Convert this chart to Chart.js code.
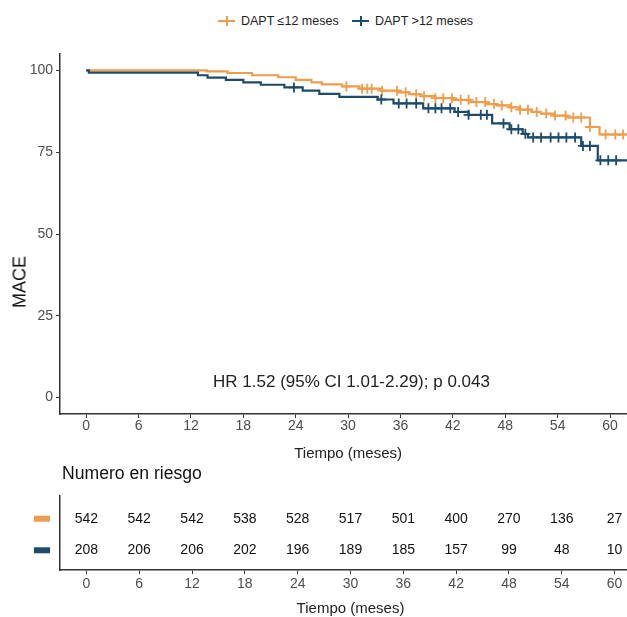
<!DOCTYPE html>
<html><head><meta charset="utf-8">
<script src="https://cdn.jsdelivr.net/npm/chart.js@4.4.1/dist/chart.umd.min.js"></script>
<style>
html,body{margin:0;padding:0;background:#fff;}
body{width:627px;height:617px;overflow:hidden;position:relative;font-family:"Liberation Sans",Arial,sans-serif;}
#top{position:absolute;left:0;top:0;}
#bot{position:absolute;left:0;top:460px;}
.legend{position:absolute;top:12px;left:0;width:627px;height:18px;font-size:12.5px;color:#222;}
.li{position:absolute;top:0;display:flex;align-items:center;height:18px;}
.sym{position:relative;width:17px;height:12px;margin-right:6px;}
.sym::before{content:"";position:absolute;left:0;top:5px;width:17px;height:2px;background:var(--c);}
.sym::after{content:"";position:absolute;left:7.5px;top:1px;width:2px;height:10px;background:var(--c);}
#hr{position:absolute;left:0;width:703px;top:372px;text-align:center;font-size:17px;color:#222;}
#nr{position:absolute;left:62px;top:463px;font-size:17.6px;color:#111;}
#mace{position:absolute;left:20px;top:282px;transform:translate(-50%,-50%) rotate(-90deg);font-size:18px;color:#111;white-space:nowrap;}
</style></head>
<body>
<div class="legend">
  <div class="li" style="left:218px"><span class="sym" style="--c:#EF9C4D"></span><span>DAPT ≤12 meses</span></div>
  <div class="li" style="left:352px"><span class="sym" style="--c:#1C4B6C"></span><span>DAPT &gt;12 meses</span></div>
</div>
<canvas id="top" width="643" height="470" style="width:643px;height:470px"></canvas>
<div id="hr">HR 1.52 (95% CI 1.01-2.29); p 0.043</div>
<div id="mace">MACE</div>
<div id="nr">Numero en riesgo</div>
<canvas id="bot" width="643" height="158" style="width:643px;height:158px"></canvas>
<script>
// ---- data ----
const seriesNames = ["DAPT ≤12 meses", "DAPT >12 meses"];
const seriesColors = ["#EF9C4D", "#1C4B6C"];
// step function (time in months, MACE-free %)
const orangeTimes  = [0, 13.8, 16.2, 19, 22, 24, 25.8, 27, 29.3, 31.3, 33.8, 35.8, 37, 38.4, 40, 42, 44, 45.8, 47, 48.6, 49.6, 51, 52.1, 53.6, 55, 57.7, 58.8, 63];
const orangeValues = [100, 99.7, 99.2, 98.5, 97.9, 97.1, 96.3, 95.7, 95.1, 94.4, 93.8, 93.3, 92.7, 92.1, 91.5, 91.0, 90.3, 89.7, 89.3, 88.7, 88.0, 87.3, 86.8, 86.2, 85.6, 82.7, 80.4, 80.4];
const blueTimes  = [0, 0.3, 12.8, 13.9, 16, 18, 20, 22.7, 24.8, 26.7, 29, 33.4, 35.2, 38.6, 42.2, 43.8, 46.5, 48.5, 50, 50.6, 56.7, 58.6, 63];
const blueValues = [100, 99.3, 98.5, 97.8, 97.1, 96.3, 95.6, 94.8, 93.8, 92.8, 91.9, 91.1, 89.9, 88.4, 87.3, 86.4, 83.8, 82.0, 80.6, 79.5, 76.9, 72.5, 72.5];
// censoring times
const orangeCensor = [29.8, 31.6, 32.2, 32.7, 33.9, 35.6, 36.6, 37.8, 38.7, 40.0, 40.9, 41.9, 42.9, 43.8, 44.7, 45.7, 46.7, 47.6, 48.7, 49.7, 50.6, 51.6, 52.7, 53.7, 54.9, 55.8, 56.7, 57.7, 59.5, 60.6, 61.5];
const blueCensor = [23.8, 33.8, 35.8, 36.7, 37.8, 39.2, 40.0, 40.7, 41.7, 42.6, 43.8, 45.2, 45.9, 47.8, 48.7, 49.5, 50.3, 51.2, 52.1, 53.2, 54.1, 55.0, 56.0, 56.9, 57.7, 58.9, 59.8, 60.7];
// tick labels
const xTicks = [0, 6, 12, 18, 24, 30, 36, 42, 48, 54, 60];
const yTicks = [0, 25, 50, 75, 100];
// number at risk
const riskTimes = [0, 6, 12, 18, 24, 30, 36, 42, 48, 54, 60];
const riskOrange = [542, 542, 542, 538, 528, 517, 501, 400, 270, 136, 27];
const riskBlue = [208, 206, 206, 202, 196, 189, 185, 157, 99, 48, 10];

function survAt(times, vals, t){ let v = vals[0]; for (let i=0;i<times.length;i++){ if (times[i] <= t) v = vals[i]; } return v; }
const toPts = (ts, vs) => ts.map((t,i)=>({x:t, y:vs[i]}));
const censorPts = (cs, ts, vs) => cs.map(t=>({x:t, y:survAt(ts, vs, t)}));

const FONT = "'Liberation Sans', Arial, sans-serif";
const AX = '#333333';
const TICKC = '#4D4D4D';

function fixTicks(arr){ return function(scale){ scale.ticks = arr.map(v=>({value:v})); }; }

new Chart(document.getElementById('top'), {
  type: 'line',
  data: { datasets: [
    { label: seriesNames[0], data: toPts(orangeTimes, orangeValues), borderColor: seriesColors[0], borderWidth: 2.2, stepped: true, pointRadius: 0, fill: false, order: 2 },
    { label: seriesNames[1], data: toPts(blueTimes, blueValues), borderColor: seriesColors[1], borderWidth: 2.2, stepped: true, pointRadius: 0, fill: false, order: 1 },
    { type: 'scatter', label: 'c1', data: censorPts(orangeCensor, orangeTimes, orangeValues), pointStyle: 'cross', pointRadius: 5, borderColor: seriesColors[0], borderWidth: 1.8, showLine: false, order: 2 },
    { type: 'scatter', label: 'c2', data: censorPts(blueCensor, blueTimes, blueValues), pointStyle: 'cross', pointRadius: 5, borderColor: seriesColors[1], borderWidth: 1.8, showLine: false, order: 1 }
  ]},
  options: {
    responsive: false, animation: false, devicePixelRatio: 1,
    layout: { padding: { top: 54, right: 2, left: 0, bottom: 0 } },
    plugins: { legend: { display: false }, tooltip: { enabled: false } },
    scales: {
      x: { type: 'linear', min: -3, max: 63,
        afterBuildTicks: fixTicks(xTicks),
        afterFit: s => { s.height = 56; },
        ticks: { color: TICKC, font: { family: FONT, size: 14 }, padding: 0, maxRotation: 0, autoSkip: false },
        grid: { display: true, drawOnChartArea: false, drawTicks: true, tickLength: 4, color: AX, lineWidth: 1 },
        border: { display: true, color: AX, width: 1.5 },
        title: { display: true, text: 'Tiempo (meses)', color: '#222', font: { family: FONT, size: 15 }, padding: { top: 0, bottom: 7 } }
      },
      y: { type: 'linear', min: -5, max: 105,
        afterBuildTicks: fixTicks(yTicks),
        afterFit: s => { s.width = 60; },
        ticks: { color: TICKC, font: { family: FONT, size: 14 }, padding: 3 },
        grid: { display: true, drawOnChartArea: false, drawTicks: true, tickLength: 4, color: AX, lineWidth: 1 },
        border: { display: true, color: AX, width: 1.5 },
        title: { display: false }
      }
    }
  }
});

const riskPlugin = {
  id: 'risk',
  afterDraw(chart){
    const ctx = chart.ctx, xs = chart.scales.x, ys = chart.scales.y;
    const rows = [{vals: riskOrange, row: 2, color: seriesColors[0]}, {vals: riskBlue, row: 1, color: seriesColors[1]}];
    ctx.save();
    ctx.font = "14px " + FONT;
    ctx.textAlign = 'center'; ctx.textBaseline = 'middle';
    rows.forEach(r => {
      const y = ys.getPixelForValue(r.row);
      ctx.fillStyle = r.color;
      ctx.fillRect(34, y - 3, 16, 6);
      ctx.fillStyle = '#111';
      r.vals.forEach((v,i) => ctx.fillText(String(v), xs.getPixelForValue(riskTimes[i]), y));
    });
    ctx.restore();
  }
};

new Chart(document.getElementById('bot'), {
  type: 'scatter',
  data: { datasets: [ { data: [], showLine: false } ] },
  plugins: [riskPlugin],
  options: {
    responsive: false, animation: false, devicePixelRatio: 1,
    layout: { padding: { top: 36, right: 2, left: 0, bottom: 0 } },
    plugins: { legend: { display: false }, tooltip: { enabled: false } },
    scales: {
      x: { type: 'linear', min: -3, max: 63,
        afterBuildTicks: fixTicks(xTicks),
        afterFit: s => { s.height = 48; },
        ticks: { color: TICKC, font: { family: FONT, size: 14 }, padding: 2, maxRotation: 0, autoSkip: false },
        grid: { display: true, drawOnChartArea: false, drawTicks: true, tickLength: 4, color: AX, lineWidth: 1 },
        border: { display: true, color: AX, width: 1.5 },
        title: { display: true, text: 'Tiempo (meses)', color: '#222', font: { family: FONT, size: 15 }, padding: { top: 0, bottom: 0 } }
      },
      y: { type: 'linear', min: 0.375, max: 2.72,
        afterFit: s => { s.width = 60; },
        ticks: { display: false },
        grid: { display: false },
        border: { display: true, color: AX, width: 1.5 }
      }
    }
  }
});
</script>
</body></html>
